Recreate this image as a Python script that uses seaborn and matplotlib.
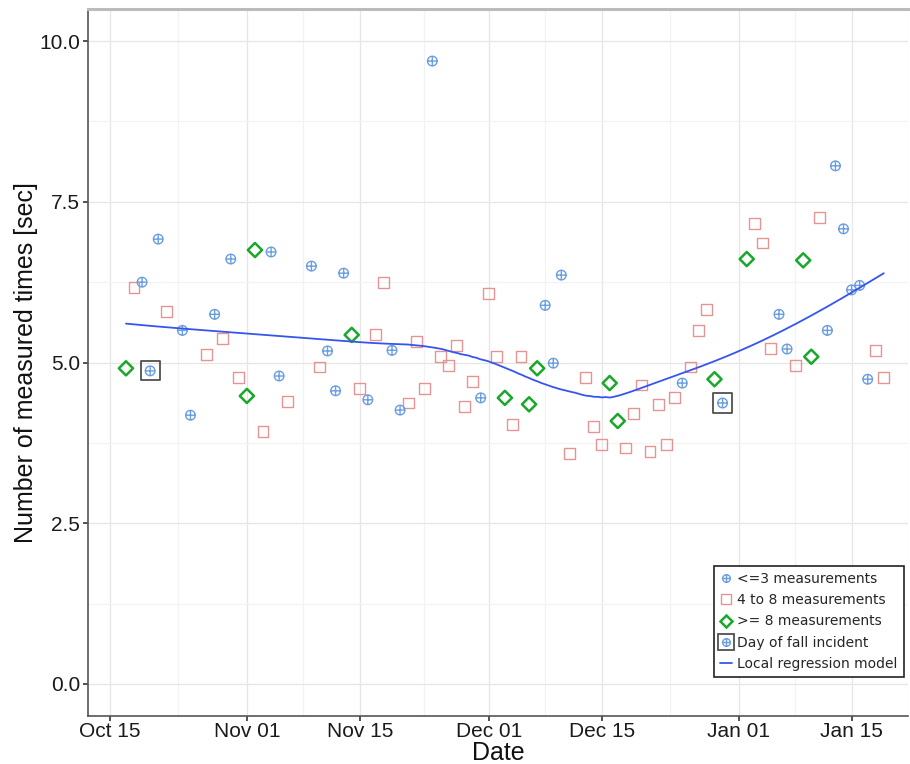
import numpy as np
import pandas as pd
import matplotlib
matplotlib.use("Agg")
import matplotlib.pyplot as plt
import matplotlib.dates as mdates
from matplotlib.path import Path
from matplotlib.lines import Line2D
from matplotlib.legend_handler import HandlerTuple
import seaborn as sns

# ---- measurements: day and mean measured time [sec] per group ----
few_dates = ["2015-10-19", "2015-10-20", "2015-10-21", "2015-10-24", "2015-10-25",
             "2015-10-28", "2015-10-30", "2015-11-04", "2015-11-05", "2015-11-09",
             "2015-11-11", "2015-11-12", "2015-11-13", "2015-11-16", "2015-11-19",
             "2015-11-20", "2015-11-24", "2015-11-30", "2015-12-08", "2015-12-09",
             "2015-12-10", "2015-12-25", "2015-12-30", "2016-01-06", "2016-01-07",
             "2016-01-12", "2016-01-13", "2016-01-14", "2016-01-15", "2016-01-16",
             "2016-01-17"]
few_values = [6.25, 4.87, 6.92, 5.50, 4.18,
              5.75, 6.61, 6.72, 4.79, 6.50,
              5.18, 4.56, 6.39, 4.42, 5.19,
              4.26, 9.69, 4.45, 5.89, 4.99,
              6.36, 4.68, 4.37, 5.75, 5.21,
              5.50, 8.06, 7.08, 6.13, 6.20,
              4.74]

mid_dates = ["2015-10-18", "2015-10-22", "2015-10-27", "2015-10-29", "2015-10-31",
             "2015-11-03", "2015-11-06", "2015-11-10", "2015-11-15", "2015-11-17",
             "2015-11-18", "2015-11-21", "2015-11-22", "2015-11-23", "2015-11-25",
             "2015-11-26", "2015-11-27", "2015-11-28", "2015-11-29", "2015-12-01",
             "2015-12-02", "2015-12-04", "2015-12-05", "2015-12-11", "2015-12-13",
             "2015-12-14", "2015-12-15", "2015-12-18", "2015-12-19", "2015-12-20",
             "2015-12-21", "2015-12-22", "2015-12-23", "2015-12-24", "2015-12-26",
             "2015-12-27", "2015-12-28", "2016-01-03", "2016-01-04", "2016-01-05",
             "2016-01-08", "2016-01-11", "2016-01-18", "2016-01-19"]
mid_values = [6.16, 5.79, 5.13, 5.37, 4.76,
              3.92, 4.40, 4.93, 4.59, 5.44,
              6.25, 4.37, 5.33, 4.60, 5.10,
              4.96, 5.26, 4.31, 4.70, 6.08,
              5.10, 4.03, 5.10, 3.59, 4.76,
              4.00, 3.73, 3.67, 4.21, 4.65,
              3.62, 4.35, 3.73, 4.45, 4.93,
              5.50, 5.83, 7.17, 6.86, 5.22,
              4.95, 7.26, 5.19, 4.76]

many_dates = ["2015-10-17", "2015-11-01", "2015-11-02", "2015-11-14", "2015-12-03",
              "2015-12-06", "2015-12-07", "2015-12-16", "2015-12-17", "2015-12-29",
              "2016-01-02", "2016-01-09", "2016-01-10"]
many_values = [4.91, 4.48, 6.75, 5.43, 4.45,
               4.35, 4.91, 4.68, 4.09, 4.74,
               6.61, 6.59, 5.09]

fall_dates = ["2015-10-20", "2015-12-30"]

tick_dates = ["2015-10-15", "2015-11-01", "2015-11-15", "2015-12-01",
              "2015-12-15", "2016-01-01", "2016-01-15"]
y_ticks = [0.0, 2.5, 5.0, 7.5, 10.0]

legend_labels = ["<=3 measurements", "4 to 8 measurements", ">= 8 measurements",
                 "Day of fall incident", "Local regression model"]

# ---- colours ----
c_few = "#6b9ee0"
c_mid = "#e69493"
c_many = "#19a82b"
c_fall = "#505050"
c_fit = "#3556ee"

few = pd.DataFrame({"date": pd.to_datetime(few_dates), "value": few_values})
mid = pd.DataFrame({"date": pd.to_datetime(mid_dates), "value": mid_values})
many = pd.DataFrame({"date": pd.to_datetime(many_dates), "value": many_values})
fall = few[few["date"].isin(pd.to_datetime(fall_dates))]
allpts = pd.concat([few, mid, many]).sort_values("date").reset_index(drop=True)


def loess(x, y, grid, span=0.75):
    """Local quadratic regression with tricube weights."""
    n = len(x)
    q = int(np.floor(n * span))
    fitted = []
    for x0 in grid:
        d = np.abs(x - x0)
        h = np.sort(d)[q - 1]
        w = np.clip(1 - (d / h) ** 3, 0, None) ** 3
        X = np.column_stack([np.ones(n), x - x0, (x - x0) ** 2])
        sw = np.sqrt(w)
        beta = np.linalg.lstsq(X * sw[:, None], y * sw, rcond=None)[0]
        fitted.append(beta[0])
    return np.array(fitted)


xnum = mdates.date2num(allpts["date"])
grid = np.linspace(xnum.min(), xnum.max(), 200)
fit = pd.DataFrame({"date": mdates.num2date(grid),
                    "value": loess(xnum, allpts["value"].to_numpy(), grid)})
fit["date"] = pd.to_datetime(fit["date"]).dt.tz_localize(None)

# circle with a cross inside
circ_plus = Path.make_compound_path(
    Path.unit_circle(),
    Path([(-1, 0), (1, 0), (0, -1), (0, 1)],
         [Path.MOVETO, Path.LINETO, Path.MOVETO, Path.LINETO]))

sns.set_theme(style="white")
plt.rcParams["font.family"] = ["Liberation Sans", "DejaVu Sans"]

fig = plt.figure(figsize=(9.10, 7.64), dpi=100)
ax = fig.add_axes([0.0967, 0.0628, 0.9011, 0.9254])

sns.scatterplot(data=mid, x="date", y="value", ax=ax, marker="s", s=62,
                facecolor="none", edgecolor=c_mid, linewidth=1.0, zorder=3)
sns.scatterplot(data=many, x="date", y="value", ax=ax, marker="D", s=52,
                facecolor="none", edgecolor=c_many, linewidth=1.8, zorder=4)
sns.scatterplot(data=few, x="date", y="value", ax=ax, marker=circ_plus, s=48,
                facecolor="none", edgecolor=c_few, linewidth=1.0, zorder=5)
sns.scatterplot(data=fall, x="date", y="value", ax=ax, marker="s", s=190,
                facecolor="none", edgecolor=c_fall, linewidth=1.3, zorder=5)
sns.lineplot(data=fit, x="date", y="value", ax=ax, color=c_fit, linewidth=1.3,
             zorder=6)

# axes ranges and ticks
ticks = pd.to_datetime(tick_dates)
ax.set_xlim(mdates.date2num(pd.Timestamp("2015-10-12 07:00")),
            mdates.date2num(pd.Timestamp("2016-01-22 00:00")))
ax.set_ylim(-0.5, 10.5)
ax.set_xticks(mdates.date2num(ticks))
ax.xaxis.set_major_formatter(mdates.DateFormatter("%b %d"))
tnum = mdates.date2num(ticks)
minor_x = list((tnum[:-1] + tnum[1:]) / 2) + [tnum[-1] + (tnum[-1] - tnum[-2]) / 2]
ax.set_xticks(minor_x, minor=True)
ax.set_yticks(y_ticks)
ax.set_yticklabels([f"{v:.1f}" for v in y_ticks])
ax.set_yticks([1.25, 3.75, 6.25, 8.75], minor=True)

ax.grid(which="major", color="#e6e6e6", linewidth=0.9)
ax.grid(which="minor", color="#f3f3f3", linewidth=0.9)
ax.set_axisbelow(True)

ax.tick_params(axis="both", which="major", direction="out", length=3.5, width=1.2,
               color="#333333", labelsize=15, labelcolor="#1a1a1a", pad=2,
               bottom=True, left=True)
ax.tick_params(axis="x", which="major", pad=1)
ax.tick_params(axis="both", which="minor", length=0)

for side in ["left", "bottom"]:
    ax.spines[side].set_color("#555555")
    ax.spines[side].set_linewidth(1.2)
ax.spines["top"].set_color("#bbbbbb")
ax.spines["top"].set_linewidth(2.2)
ax.spines["right"].set_visible(False)

ax.set_xlabel("Date", fontsize=18, labelpad=0, color="#111111")
ax.set_ylabel("Number of measured times [sec]", fontsize=18, labelpad=1,
              color="#111111")

# legend
h_few = Line2D([], [], ls="none", marker=circ_plus, ms=5.5, mfc="none",
               mec=c_few, mew=1.0)
h_mid = Line2D([], [], ls="none", marker="s", ms=7, mfc="none", mec=c_mid, mew=1.0)
h_many = Line2D([], [], ls="none", marker="D", ms=6.5, mfc="none", mec=c_many, mew=1.8)
h_box = Line2D([], [], ls="none", marker="s", ms=11, mfc="none", mec=c_fall, mew=1.3)
h_fit = Line2D([], [], color=c_fit, linewidth=1.3)
leg = ax.legend([h_few, h_mid, h_many, (h_box, h_few), h_fit], legend_labels,
                handler_map={tuple: HandlerTuple(ndivide=1)},
                loc="lower right", bbox_to_anchor=(0.995, 0.055),
                frameon=True, fancybox=False, edgecolor="#222222",
                framealpha=1, handlelength=0.9, handletextpad=0.35,
                labelspacing=0.52, borderpad=0.45, borderaxespad=0.0,
                prop={"family": "DejaVu Sans", "size": 10})
leg.get_frame().set_linewidth(1.2)

fig.savefig("out.png", dpi=100)
